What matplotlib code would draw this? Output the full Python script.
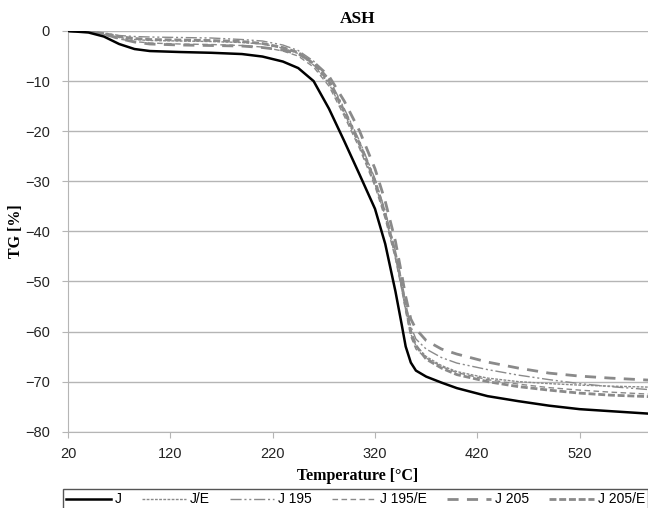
import matplotlib
matplotlib.use('Agg')
import matplotlib.pyplot as plt

# temperature points [°C]
temp = [20, 40, 55, 70, 85, 100, 130, 160, 190, 210, 230, 245, 260, 275, 290, 305,
        320, 330, 340, 346, 350, 355, 360, 370, 385, 400, 430, 460, 490, 520, 550, 588]

tg_j = [0, -0.3, -1.1, -2.6, -3.6, -4.0, -4.2, -4.35, -4.6, -5.1, -6.1, -7.4, -10.0, -15.5,
        -22.0, -28.7, -35.5, -42.5, -52.0, -58.5, -63.0, -66.2, -67.8, -69.0, -70.2, -71.3,
        -72.9, -73.9, -74.8, -75.5, -75.9, -76.4]
tg_je = [0, -0.1, -0.6, -1.3, -1.7, -1.9, -2.0, -2.1, -2.3, -2.6, -3.4, -4.5, -6.8, -10.5,
         -16.5, -23.0, -30.5, -37.0, -45.0, -51.0, -55.5, -60.5, -62.8, -65.0, -66.8, -68.0,
         -69.3, -70.0, -70.4, -70.7, -70.9, -71.1]
tg_j195 = [0, -0.1, -0.4, -0.9, -1.1, -1.2, -1.3, -1.4, -1.7, -2.0, -2.8, -3.9, -6.0, -9.5,
           -15.5, -22.0, -29.5, -36.0, -44.0, -50.0, -54.5, -59.0, -61.5, -63.5, -65.2, -66.3,
           -67.6, -68.7, -69.6, -70.4, -71.0, -71.6]
tg_j195e = [0, -0.2, -0.7, -1.6, -2.1, -2.4, -2.6, -2.7, -2.9, -3.2, -4.0, -5.0, -7.2, -11.0,
            -17.0, -23.5, -31.0, -37.5, -45.5, -51.5, -56.0, -61.0, -63.5, -65.3, -67.0, -68.2,
            -69.6, -70.5, -71.2, -71.7, -72.1, -72.5]
tg_j205 = [0, -0.1, -0.6, -1.5, -2.2, -2.6, -2.8, -2.9, -3.0, -3.3, -3.8, -4.6, -6.2, -9.0,
           -14.0, -20.0, -27.5, -34.0, -42.0, -48.5, -53.0, -57.5, -59.5, -61.8, -63.5, -64.5,
           -66.1, -67.3, -68.3, -68.9, -69.3, -69.7]
tg_j205e = [0, -0.1, -0.5, -1.1, -1.5, -1.7, -1.8, -1.9, -2.1, -2.5, -3.3, -4.3, -6.5, -10.0,
            -16.0, -22.5, -30.0, -36.5, -44.5, -50.5, -55.0, -60.0, -62.8, -65.5, -67.3, -68.6,
            -70.0, -71.0, -71.7, -72.3, -72.7, -73.0]

xticks = [20, 120, 220, 320, 420, 520]
yticks = [0, -10, -20, -30, -40, -50, -60, -70, -80]

sans = ['Liberation Sans Narrow', 'Liberation Sans', 'DejaVu Sans']
serif = ['Liberation Serif', 'DejaVu Serif']
grey = '#8a8a8a'

fig = plt.figure(figsize=(6.48, 5.08), dpi=100)
ax = fig.add_axes([68 / 648, 1 - 431.7 / 508, 1 - 68 / 648, (431.7 - 31) / 508])

ax.plot(temp, tg_j, color='black', lw=1.8, label='J', zorder=5)
ax.plot(temp, tg_je, color=grey, lw=1.0, ls=(0, (2, 1)), label='J/E')
ax.plot(temp, tg_j195, color=grey, lw=1.0, ls=(0, (8, 2, 1.5, 2, 1.5, 2)), label='J 195')
ax.plot(temp, tg_j195e, color=grey, lw=1.0, ls=(0, (4, 2.5)), label='J 195/E')
ax.plot(temp, tg_j205, color=grey, lw=2.0, ls=(0, (4, 3)), label='J 205')
ax.plot(temp, tg_j205e, color=grey, lw=2.0, ls=(0, (2.5, 1)), label='J 205/E')

ax.set_xlim(20, 20 + 580 / 1.0233)
ax.set_ylim(-80, 0)
ax.set_xticks(xticks)
ax.set_yticks(yticks)
ax.yaxis.grid(True, color='#b5b5b5', lw=1)
ax.set_axisbelow(True)
for s in ['top', 'right']:
    ax.spines[s].set_visible(False)
for s in ['left', 'bottom']:
    ax.spines[s].set_color('#b5b5b5')
ax.tick_params(axis='both', colors='#b5b5b5', length=4, labelcolor='#222222', labelsize=10.5)
ax.tick_params(axis='x', pad=7)
ax.tick_params(axis='y', pad=9)
for lab in ax.get_xticklabels() + ax.get_yticklabels():
    lab.set_family(sans)

ax.set_title('ASH', fontsize=12.5, fontweight='bold', family=serif, pad=6)
ax.set_ylabel('TG [%]', fontsize=11.5, fontweight='bold', family=serif, labelpad=2)
ax.yaxis.set_label_coords(-0.075, 0.5)
ax.set_xlabel('Temperature [°C]', fontsize=11.5, fontweight='bold', family=serif)
ax.xaxis.set_label_coords(0.5, -0.09)

leg = fig.legend(loc='upper left', bbox_to_anchor=(56 / 648, 0, 0.925, 1 - 482 / 508),
                 bbox_transform=fig.transFigure, mode='expand', ncol=6,
                 prop={'family': sans, 'size': 10}, handlelength=3.2, handletextpad=0.3,
                 borderpad=0.25, fancybox=False, framealpha=1)
leg.get_frame().set_edgecolor('#555555')
leg.get_frame().set_linewidth(1.0)

fig.savefig('out.png', dpi=100)
